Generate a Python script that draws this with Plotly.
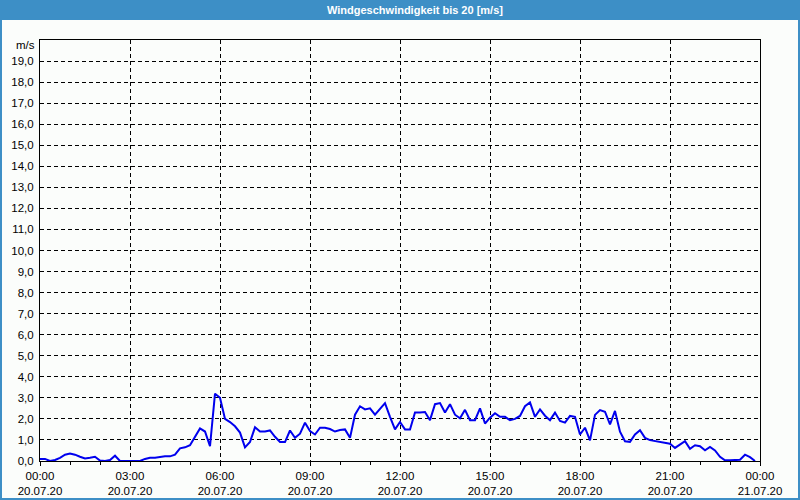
import plotly.graph_objects as go
import pandas as pd

# Wind speed [m/s], 10-minute values from 20.07.20 00:00
wind = [
    0.10, 0.10, 0.00, 0.05, 0.15, 0.30, 0.35, 0.30, 0.20, 0.12,
    0.15, 0.20, 0.02, 0.00, 0.05, 0.25, 0.00, 0.00, 0.00, 0.00,
    0.00, 0.10, 0.15, 0.15, 0.20, 0.22, 0.22, 0.30, 0.60, 0.65,
    0.75, 1.15, 1.55, 1.40, 0.70, 3.20, 3.00, 2.00, 1.85, 1.65,
    1.35, 0.65, 0.90, 1.60, 1.40, 1.40, 1.45, 1.15, 0.90, 0.90,
    1.45, 1.10, 1.30, 1.82, 1.42, 1.26, 1.58, 1.58, 1.52, 1.40,
    1.47, 1.50, 1.10, 2.20, 2.60, 2.45, 2.50, 2.20, 2.45, 2.75,
    2.10, 1.50, 1.85, 1.50, 1.50, 2.30, 2.30, 2.33, 1.94, 2.70,
    2.75, 2.30, 2.70, 2.20, 2.03, 2.43, 1.94, 1.94, 2.50, 1.78,
    2.06, 2.27, 2.10, 2.10, 1.94, 2.00, 2.14, 2.60, 2.78, 2.10,
    2.45, 2.15, 1.94, 2.30, 1.90, 1.82, 2.14, 2.10, 1.26, 1.58,
    0.98, 2.19, 2.42, 2.34, 1.74, 2.38, 1.39, 0.94, 0.91, 1.26,
    1.46, 1.10, 0.99, 0.94, 0.91, 0.86, 0.82, 0.62, 0.78, 0.94,
    0.58, 0.75, 0.70, 0.51, 0.67, 0.50, 0.20, 0.03, 0.03, 0.03,
    0.06, 0.30, 0.18, 0.00,
]
start = "2020-07-20 00:00"
end = "2020-07-21 00:00"
times = pd.date_range(start, periods=len(wind), freq="10min")
y_ticks = list(range(0, 20))

W, H = 800, 500
L, R, T, B = 40, 40, 40, 39
pw, ph = W - L - R, H - T - B

def px(x):
    return (x - L) / pw

def py(y):
    return (H - B - y) / ph

fig = go.Figure()
fig.add_trace(go.Scatter(x=times, y=wind, mode="lines",
                         line=dict(color="#0000ee", width=2), hoverinfo="skip"))

bg = "#fbfdfb"
blue = "#3d8fc6"
fnt = "Liberation Sans, Arial, sans-serif"
fig.update_layout(
    width=W, height=H,
    margin=dict(l=L, r=R, t=T, b=B),
    paper_bgcolor=bg, plot_bgcolor=bg,
    separators=",.",
    showlegend=False,
    font=dict(family=fnt, size=11, color="black"),
)
fig.update_xaxes(
    type="date", range=[start, end], automargin=False,
    dtick=3 * 3600000, tick0=start,
    tickformat="%H:%M<br>%d.%m.%y",
    tickfont=dict(size=11.5),
    showgrid=True, gridcolor="black", gridwidth=1, griddash="4px,3px",
    showline=True, linecolor="black", linewidth=1, mirror=True,
    ticks="outside", ticklen=4, tickcolor="black",
    minor=dict(dtick=3600000, ticks="outside", ticklen=3, tickcolor="black", showgrid=False),
    zeroline=False,
)
fig.update_yaxes(
    range=[0, 20], tickvals=y_ticks, tickformat=".1f", automargin=False,
    tickfont=dict(size=11.5),
    showgrid=True, gridcolor="black", gridwidth=1, griddash="4px,3px",
    showline=True, linecolor="black", linewidth=1, mirror=True,
    ticks="", ticklabelstandoff=3,
    zeroline=False,
)

# title bar and outer border
fig.add_shape(type="rect", xref="paper", yref="paper",
              x0=px(0), x1=px(W), y0=py(20), y1=py(0),
              fillcolor=blue, line=dict(width=0), layer="above")
fig.add_shape(type="rect", xref="paper", yref="paper",
              x0=px(1), x1=px(W - 1), y0=py(H - 1), y1=py(1),
              fillcolor="rgba(0,0,0,0)", line=dict(color=blue, width=2), layer="above")
fig.add_annotation(text="<b>Windgeschwindigkeit bis 20 [m/s]</b>", xref="paper", yref="paper",
                   x=px(415), y=py(10), showarrow=False,
                   font=dict(color="white", size=11, family=fnt),
                   xanchor="center", yanchor="middle")
fig.add_annotation(text="m/s", xref="paper", yref="paper",
                   x=px(37), y=py(45), showarrow=False, xanchor="right", yanchor="middle",
                   font=dict(size=11.5))

fig.write_html("out.html")
